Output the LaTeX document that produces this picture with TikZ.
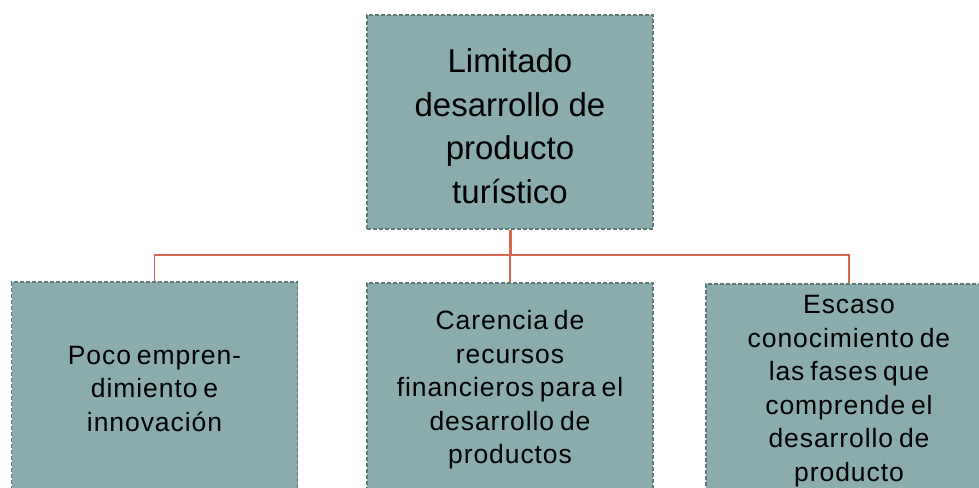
\documentclass[tikz,border=0pt]{standalone}
\usepackage{fontspec}
\setmainfont{Liberation Sans}
\newfontfamily\boxfont[LetterSpace=3.5,WordSpace=0.7]{Liberation Sans}
\definecolor{boxfill}{RGB}{138,172,172}
\definecolor{boxline}{RGB}{96,122,122}
\definecolor{conn}{RGB}{214,102,78}
\tikzset{
  box/.style={draw=boxline, fill=boxfill, dash pattern=on 4pt off 2pt, line width=1.2pt,
    minimum width=286pt, minimum height=214pt, inner sep=0pt, align=center, text=black},
  toptext/.style={font=\fontsize{33}{43.5}\selectfont},
  subtext/.style={font=\boxfont\fontsize{26.5}{33.5}\selectfont},
  link/.style={draw=conn, line width=1.6pt}
}
\begin{document}
\begin{tikzpicture}[x=1pt,y=-1pt]
\useasboundingbox (0,0) rectangle (979,487);
\clip (0,0) rectangle (979,487);
\node[box, toptext] (top) at (510,122) {\rule{0pt}{32pt}Limitado\\desarrollo de\\producto\\turístico};
\node[box, subtext] (l) at (154.5,389) {Poco empren-\\dimiento e\\innovación};
\node[box, subtext] (m) at (510,390) {Carencia de\\recursos\\financieros para el\\desarrollo de\\productos};
\node[box, subtext] (r) at (849,391) {Escaso\\conocimiento de\\las fases que\\comprende el\\desarrollo de\\producto};
\coordinate (j) at (510,255);
\draw[link, line width=3pt] (top.south) -- (j);
\draw[link] (l.north) |- (j) -| (r.north);
\draw[link] (j) -- (m.north);
\end{tikzpicture}
\end{document}
